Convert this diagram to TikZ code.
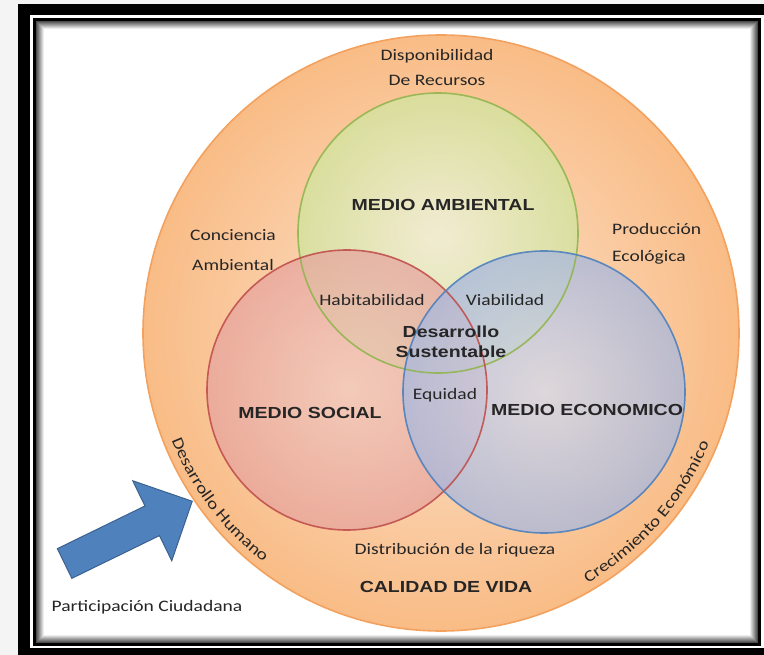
\documentclass[tikz,border=0pt]{standalone}
\usepackage{fontspec}
\setmainfont{Carlito}[FakeStretch=1.22]
\newfontfamily\negrita{Liberation Sans}[FakeStretch=1.22]
\usetikzlibrary{shapes.arrows,decorations.text}

\definecolor{fondo}{HTML}{F4F4F4}
\definecolor{naranja}{HTML}{F9BC86}
\definecolor{naranjaclaro}{HTML}{FCE4D0}
\definecolor{naranjaborde}{HTML}{F2A25E}
\definecolor{verde}{HTML}{D2E49E}
\definecolor{verdeclaro}{HTML}{EFF1D8}
\definecolor{verdeborde}{HTML}{92B550}
\definecolor{rojo}{HTML}{E6A39E}
\definecolor{rojoclaro}{HTML}{F1C6BA}
\definecolor{rojoborde}{HTML}{C0504D}
\definecolor{azul}{HTML}{AAB9DC}
\definecolor{azulclaro}{HTML}{D6D8E6}
\definecolor{azulborde}{HTML}{4F81BD}
\definecolor{texto}{HTML}{262626}

\newcommand{\letra}{\color{texto}\fontsize{16}{25}\selectfont}
\tikzset{
  lbl/.style={text=texto, font=\letra, inner sep=0pt},
  titulo/.style={text=texto, font=\negrita\bfseries\fontsize{16}{20}\selectfont, inner sep=0pt},
  anillo/.style={line width=1.6pt},
  enarco/.style={decorate, decoration={text along path, text align=center,
    text={|\letra|#1}}}
}

\begin{document}
\begin{tikzpicture}[x=1pt,y=-1pt]
  \useasboundingbox (0,0) rectangle (764,655);
  \fill[fondo] (0,0) rectangle (764,655);
  % marco
  \fill[black] (18,4) rectangle (800,700);
  \fill[white] (30,15) rectangle (764,648);
  \fill[black] (33,18) rectangle (761,646);
  \fill[white] (36,21) rectangle (758,643);
  \foreach \i [evaluate=\i as \g using int(70-9*\i)] in {0,...,7}
    \draw[black!\g, line width=1pt] (36.5+\i,21.5+\i) rectangle (757.5-\i,642.5-\i);

  % circulos
  \coordinate (vida) at (441,333);
  \coordinate (ambiental) at (438,233);
  \coordinate (social) at (347,390);
  \coordinate (economico) at (544,392);
  \path[shade, inner color=naranjaclaro, outer color=naranja, draw=naranjaborde, anillo]
    (vida) circle [radius=298pt];
  \path[shade, inner color=verdeclaro, outer color=verde, fill opacity=.8]
    (ambiental) circle [radius=140pt];
  \path[shade, inner color=rojoclaro, outer color=rojo, fill opacity=.72]
    (social) circle [radius=140pt];
  \path[shade, inner color=azulclaro, outer color=azul, fill opacity=.78]
    (economico) circle [radius=141pt];
  \draw[verdeborde, anillo, opacity=.9] (ambiental) circle [radius=140pt];
  \draw[rojoborde, anillo, opacity=.9] (social) circle [radius=140pt];
  \draw[azulborde, anillo, opacity=.9] (economico) circle [radius=141pt];

  % textos
  \node[lbl, align=center] (recursos) at (437,68) {Disponibilidad\\De Recursos};
  \node[lbl, align=center] (conciencia) at (233,250) {Conciencia\\[5pt]Ambiental};
  \node[lbl, align=left, anchor=west] (produccion) at (612,244) {Producción\\[2pt]Ecológica};
  \node[titulo] (tamb) at (443,205) {MEDIO AMBIENTAL};
  \node[lbl] (habita) at (372,300) {Habitabilidad};
  \node[lbl] (viable) at (505,300) {Viabilidad};
  \node[titulo, align=center] (ds) at (451,342) {Desarrollo\\Sustentable};
  \node[lbl] (equidad) at (445,395) {Equidad};
  \node[titulo] (tsoc) at (310,413) {MEDIO SOCIAL};
  \node[titulo] (teco) at (587,410) {MEDIO ECONOMICO};
  \path[enarco=Desarrollo Humano] (vida) ++(166:290) arc[start angle=166, end angle=120, radius=290];
  \path[enarco=Crecimiento Económico] (vida) ++(64:290) arc[start angle=64, end angle=18, radius=290];
  \node[lbl] (riqueza) at (455,550) {Distribución de la riqueza};
  \node[titulo] (calidad) at (446,587) {CALIDAD DE VIDA};
  \node[lbl] (ciudadana) at (147,607) {Participación Ciudadana};

  % flecha
  \node[single arrow, fill=azulborde, draw=azulborde!75!black, line width=1pt,
        minimum height=142pt, inner xsep=0pt, inner ysep=16pt,
        single arrow head extend=28pt, rotate=26] (flecha) at (121,536) {};
\end{tikzpicture}
\end{document}
